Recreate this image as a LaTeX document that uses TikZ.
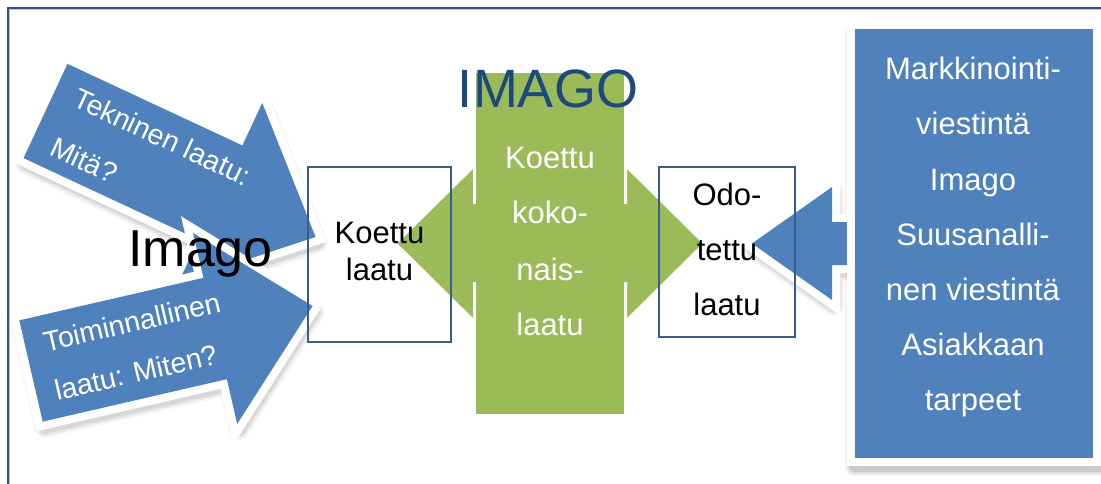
\documentclass[tikz,border=0pt]{standalone}
\usepackage{fontspec}
\setmainfont{Liberation Sans}
\definecolor{accblue}{HTML}{4F81BD}
\definecolor{accgreen}{HTML}{9BBB59}
\definecolor{titleblue}{HTML}{1F497D}
\definecolor{edgeblue}{HTML}{385D8A}
\definecolor{framedark}{HTML}{2F528F}
\definecolor{framelight}{HTML}{B7CCE4}
\newcommand\fsz[2]{\fontsize{#1}{#2}\selectfont}
% block arrow along +x: half shaft width, head start, half head width, length
\newcommand\blockarrow[4]{(0,-#1) -- (#2,-#1) -- (#2,-#3) -- (#4,0) -- (#2,#3) -- (#2,#1) -- (0,#1) -- cycle}
\newcommand\rightarrowpath{(752,243.5) -- (832,187) -- (832,222) -- (862,222) -- (862,265) -- (832,265) -- (832,300) -- cycle}

\begin{document}
\begin{tikzpicture}[x=1pt,y=-1pt,
  every node/.style={inner sep=0pt, outer sep=0pt},
  lbl/.style={font=\fsz{31}{37}, anchor=base},
  whitelbl/.style={lbl, text=white},
  arrowtxt/.style={font=\fsz{28.5}{32}, text=white, anchor=base west},
  qbox/.style={draw=edgeblue, line width=1.2pt, minimum width=#1},
  blueshape/.style={fill=accblue, preaction={draw=white, line width=16pt, line join=miter}},
  shadowpass/.style={black, line join=round}]

\clip (0,0) rectangle (1101,484);
\fill[white] (0,0) rectangle (1101,484);

% outer frame (only left and top edges fall inside the page)
\draw[framedark, line width=1.8pt] (8.2,495) -- (8.2,8.2) -- (1110,8.2);
\draw[framelight, line width=0.9pt] (9.8,495) -- (9.8,9.8) -- (1110,9.8);

% green double arrow with the vertical bar over it
\path[fill=accgreen, draw=white, line width=2pt]
  (396,243.5) -- (474,166.5) -- (474,203) -- (626,203) -- (626,166.5)
  -- (704,243.5) -- (626,320.5) -- (626,283) -- (474,283) -- (474,320.5) -- cycle;
\node[fill=accgreen, minimum width=148pt, minimum height=341pt] (bar) at (550,243.5) {};
\node[font=\fsz{54}{60}, text=titleblue, anchor=base] (title) at (548,108) {IMAGO};

% upper left arrow: Tekninen laatu
\begin{scope}[shift={(47.5,117)}, rotate=-25]
  \foreach \w/\o in {20/0.04, 16/0.05, 12/0.07}
    \filldraw[shadowpass, opacity=\o, line width=\w pt] \blockarrow{52}{193}{99}{298};
\end{scope}
\begin{scope}[shift={(45.5,111)}, rotate=-25]
  \path[blueshape] \blockarrow{52}{193}{99}{298};
  \node[arrowtxt, transform shape] (tek1) at (21,-16) {Tekninen laatu:};
  \node[arrowtxt, transform shape] (tek2) at (21,38) {Mitä?};
\end{scope}

% lower left arrow: Toiminnallinen laatu
\begin{scope}[shift={(33,377)}, rotate=13]
  \foreach \w/\o in {20/0.04, 16/0.05, 12/0.07}
    \filldraw[shadowpass, opacity=\o, line width=\w pt] \blockarrow{52}{189}{98}{289};
\end{scope}
\begin{scope}[shift={(31,371)}, rotate=13]
  \path[blueshape] \blockarrow{52}{189}{98}{289};
  \node[arrowtxt, transform shape] (toi1) at (19,-15) {Toiminnallinen};
  \node[arrowtxt, transform shape] (toi2) at (19,35) {laatu: Miten?};
\end{scope}

% right source box shadow, incoming arrow, then the box
\foreach \w/\o in {20/0.05, 16/0.07, 12/0.09}
  \filldraw[shadowpass, opacity=\o, line width=\w pt] (855,34) rectangle (1101,466);
\begin{scope}[shift={(2,6)}]
  \foreach \w/\o in {20/0.04, 16/0.05, 12/0.06}
    \filldraw[shadowpass, opacity=\o, line width=\w pt] \rightarrowpath;
\end{scope}
\path[blueshape] \rightarrowpath;
\node[fill=accblue, draw=white, line width=8pt, minimum width=246pt, minimum height=437pt] (src) at (974,243.5) {};

% quality boxes
\node[qbox=143pt, minimum height=175pt] (koettu) at (379.5,254.5) {};
\node[qbox=136pt, minimum height=170pt] (odotettu) at (727,252) {};

% texts
\node[lbl] (k1) at (379.5,243) {Koettu};
\node[lbl] (k2) at (379.5,280) {laatu};

\node[lbl] (o1) at (727,205) {Odo-};
\node[lbl] (o2) at (727,260) {tettu};
\node[lbl] (o3) at (727,315) {laatu};

\node[whitelbl] (g1) at (550,168) {Koettu};
\node[whitelbl] (g2) at (550,223) {koko-};
\node[whitelbl] (g3) at (550,280) {nais-};
\node[whitelbl] (g4) at (550,335) {laatu};

\foreach \t [count=\i] in {Markkinointi-, viestintä, Imago, Suusanalli-, nen viestintä, Asiakkaan, tarpeet}
  \node[whitelbl] (s\i) at (973,25+55*\i) {\t};

\node[font=\fsz{52}{58}, anchor=base] (imago) at (200.5,266) {Imago};
\end{tikzpicture}
\end{document}
